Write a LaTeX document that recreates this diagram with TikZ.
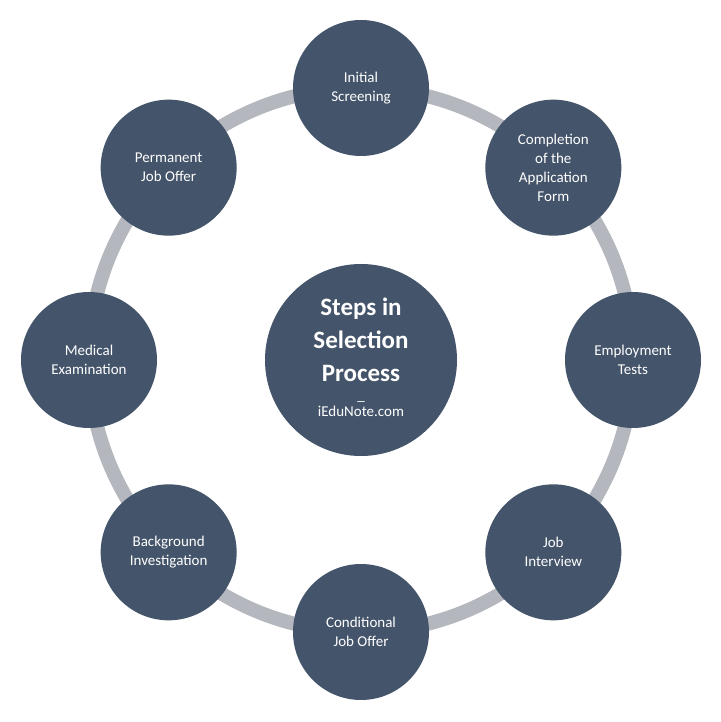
\documentclass[tikz,border=0pt]{standalone}
\usepackage{fontspec}
\setmainfont{Carlito}
\usetikzlibrary{positioning, calc}
\definecolor{slate}{HTML}{44546A}
\definecolor{ringgray}{HTML}{B4B7BD}
\tikzset{
  stage/.style={circle, fill=slate, minimum size=136pt, inner sep=0pt,
    text=white, align=center, font=\fontsize{15}{19}\selectfont},
  hub/.style={circle, fill=slate, minimum size=192pt, inner sep=0pt},
  title/.style={text=white, align=center, font=\fontsize{25}{33}\selectfont\bfseries},
  site/.style={text=white, align=center, inner sep=1pt, font=\fontsize{15}{15}\selectfont}
}
\begin{document}
\begin{tikzpicture}[x=1pt,y=1pt]
\useasboundingbox (0,0) rectangle (720,722);
\coordinate (c) at (361,362);
\draw[ringgray, line width=14pt] (c) circle (272);
\node[hub] (hub) at (c) {};
\node[title] (head) at ($(c)+(0,20)$) {Steps in\\Selection\\Process};
\node[site, text height=0pt, text depth=2pt, below=14pt of head] (dash) {\_};
\node[site, below=1pt of dash] (url) {iEduNote.com};
\foreach \ang/\name/\txt in {90/s1/{Initial\\Screening},
  45/s2/{Completion\\of the\\Application\\Form},
  0/s3/{Employment\\Tests},
  -45/s4/{Job\\Interview},
  -90/s5/{Conditional\\Job Offer},
  -135/s6/{Background\\Investigation},
  180/s7/{Medical\\Examination},
  135/s8/{Permanent\\Job Offer}}
  \node[stage] (\name) at ($(c)+(\ang:272)$) {\txt};
\end{tikzpicture}
\end{document}
